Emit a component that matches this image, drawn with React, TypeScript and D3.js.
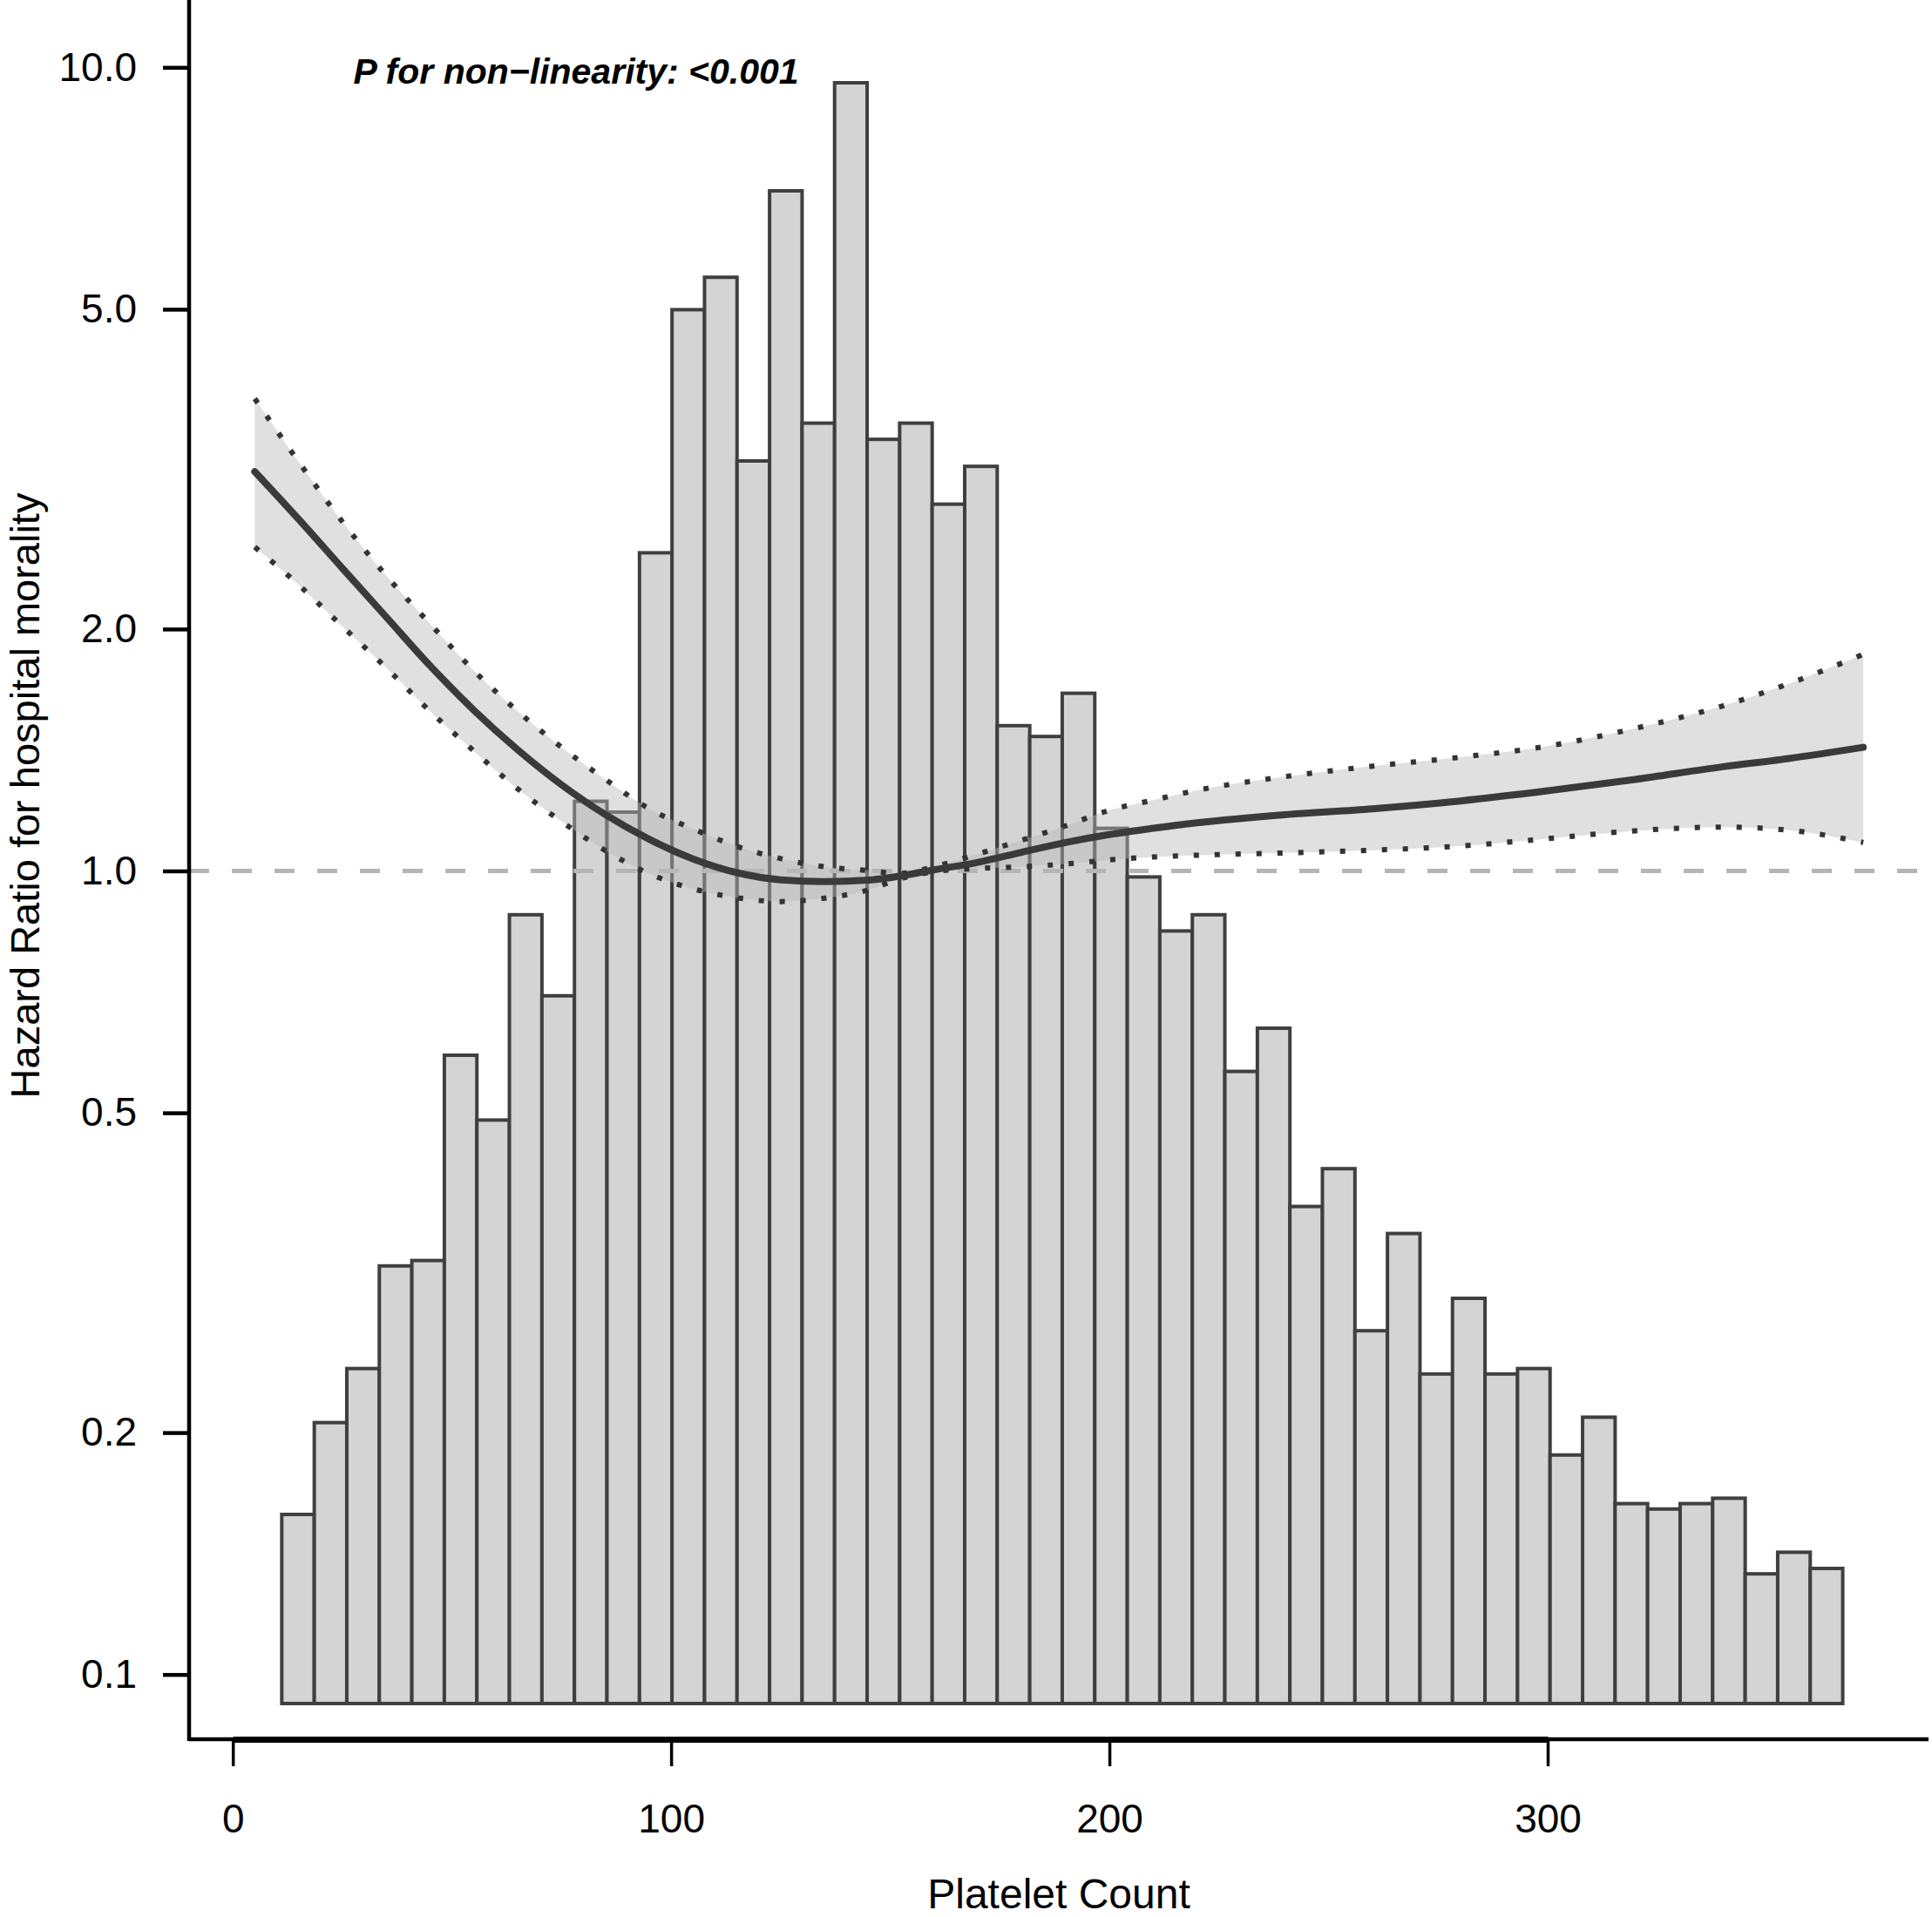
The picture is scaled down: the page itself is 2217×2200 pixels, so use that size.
import * as d3 from "d3"
import { useEffect, useRef } from "react"

const WIDTH = 2217
const HEIGHT = 2200

// histogram of platelet count (frequency per bin, 48 equal bins)
const binStart = 11.16
const binWidth = 7.42
const binCounts = [
  35, 52, 62, 81, 82, 120, 108, 146, 131, 167, 165, 213, 258, 264, 230, 280,
  237, 300, 234, 237, 222, 229, 181, 179, 187, 162, 153, 143, 146, 117, 125, 92,
  99, 69, 87, 61, 75, 61, 62, 46, 53, 37, 36, 37, 38, 24, 28, 25,
]

// restricted cubic spline: hazard ratio with 95% CI
const splineX = [
  5, 15, 25, 35, 45, 55, 65, 75, 85, 95, 105, 115, 125, 135, 145, 152, 160, 170,
  180, 190, 200, 210, 220, 240, 260, 280, 300, 320, 340, 355, 372,
]
const hazardRatio = [
  3.14, 2.74, 2.38, 2.07, 1.8, 1.585, 1.415, 1.28, 1.175, 1.095, 1.035, 0.995,
  0.975, 0.97, 0.974, 0.985, 1.003, 1.025, 1.055, 1.085, 1.11, 1.13, 1.148,
  1.175, 1.195, 1.222, 1.258, 1.3, 1.348, 1.38, 1.425,
]
const lowerCI = [
  2.53, 2.27, 2.015, 1.79, 1.58, 1.41, 1.265, 1.152, 1.06, 0.992, 0.95, 0.926,
  0.916, 0.925, 0.947, 0.977, 0.998, 1.007, 1.012, 1.02, 1.032, 1.041, 1.046,
  1.053, 1.061, 1.074, 1.097, 1.122, 1.134, 1.124, 1.085,
]
const upperCI = [
  3.87, 3.23, 2.72, 2.33, 2.03, 1.775, 1.58, 1.425, 1.3, 1.195, 1.128, 1.073,
  1.036, 1.012, 1.001, 0.993, 1.012, 1.05, 1.092, 1.138, 1.19, 1.225, 1.26,
  1.31, 1.35, 1.385, 1.43, 1.505, 1.605, 1.71, 1.86,
]

const xTicks = [0, 100, 200, 300]
const yTicks = [0.1, 0.2, 0.5, 1, 2, 5, 10]
const yTickLabels = ["0.1", "0.2", "0.5", "1.0", "2.0", "5.0", "10.0"]

const FONT = "'Liberation Sans', Arial, Helvetica, sans-serif"

export default function App() {
  const svgRef = useRef<SVGSVGElement>(null)

  useEffect(() => {
    if (!svgRef.current) return
    const svg = d3.select(svgRef.current)
    svg.selectAll("*").remove()

    // plot region edges (bty = "l")
    const plotLeft = 217
    const plotRight = 2213
    const plotBottom = 1996

    const x = d3.scaleLinear().domain([0, 300]).range([267.2, 1776])
    const y = d3.scaleLog().domain([0.1, 10]).range([1921.7, 77.3])
    const yCount = d3.scaleLinear().domain([0, 300]).range([1955, 95])

    // histogram bars
    svg
      .append("g")
      .selectAll("rect")
      .data(binCounts)
      .join("rect")
      .attr("x", (_, i) => x(binStart + i * binWidth))
      .attr("width", x(binWidth) - x(0))
      .attr("y", (d) => yCount(d))
      .attr("height", (d) => yCount(0) - yCount(d))
      .attr("fill", "#d4d4d4")
      .attr("stroke", "#3f3f3f")
      .attr("stroke-width", 4)

    // reference line HR = 1
    svg
      .append("line")
      .attr("x1", plotLeft)
      .attr("x2", plotRight)
      .attr("y1", y(1))
      .attr("y2", y(1))
      .attr("stroke", "#b5b5b5")
      .attr("stroke-width", 5)
      .attr("stroke-dasharray", "23 26")

    const idx = d3.range(splineX.length)

    // confidence band
    const band = d3
      .area<number>()
      .x((i) => x(splineX[i]))
      .y0((i) => y(lowerCI[i]))
      .y1((i) => y(upperCI[i]))
      .curve(d3.curveMonotoneX)

    svg
      .append("path")
      .datum(idx)
      .attr("d", band)
      .attr("fill", "rgb(187,187,187)")
      .attr("fill-opacity", 0.45)

    const lineOf = (vals: number[]) =>
      d3
        .line<number>()
        .x((i) => x(splineX[i]))
        .y((i) => y(vals[i]))
        .curve(d3.curveMonotoneX)

    // dotted CI limits
    ;[lowerCI, upperCI].forEach((vals) => {
      svg
        .append("path")
        .datum(idx)
        .attr("d", lineOf(vals))
        .attr("fill", "none")
        .attr("stroke", "#333")
        .attr("stroke-width", 6)
        .attr("stroke-dasharray", "6 18")
    })

    // hazard ratio curve
    svg
      .append("path")
      .datum(idx)
      .attr("d", lineOf(hazardRatio))
      .attr("fill", "none")
      .attr("stroke", "#3a3a3a")
      .attr("stroke-width", 8)
      .attr("stroke-linecap", "round")

    // box lines
    svg
      .append("line")
      .attr("x1", plotLeft)
      .attr("x2", plotLeft)
      .attr("y1", 0)
      .attr("y2", plotBottom + 2)
      .attr("stroke", "#000")
      .attr("stroke-width", 4.5)
    svg
      .append("line")
      .attr("x1", plotLeft)
      .attr("x2", plotRight)
      .attr("y1", plotBottom)
      .attr("y2", plotBottom)
      .attr("stroke", "#000")
      .attr("stroke-width", 4.5)

    // y axis
    const yAxis = svg
      .append("g")
      .attr("transform", `translate(${plotLeft},0)`)
      .call(
        d3
          .axisLeft(y)
          .tickValues(yTicks)
          .tickFormat((_, i) => yTickLabels[i])
          .tickSize(30)
          .tickPadding(30),
      )
    yAxis.select(".domain").remove()
    yAxis.selectAll("line").attr("stroke", "#000").attr("stroke-width", 4.5)
    yAxis
      .selectAll("text")
      .attr("fill", "#000")
      .style("font-family", FONT)
      .style("font-size", "46px")

    // x axis
    const xAxis = svg
      .append("g")
      .attr("transform", `translate(0,${plotBottom})`)
      .call(
        d3
          .axisBottom(x)
          .tickValues(xTicks)
          .tickFormat(d3.format("d"))
          .tickSize(31)
          .tickSizeOuter(0)
          .tickPadding(43),
      )
    xAxis.select(".domain").attr("stroke", "#000").attr("stroke-width", 7)
    xAxis.selectAll("line").attr("stroke", "#000").attr("stroke-width", 3.5)
    xAxis
      .selectAll("text")
      .attr("fill", "#000")
      .style("font-family", FONT)
      .style("font-size", "46px")

    // axis titles
    svg
      .append("text")
      .attr("x", (plotLeft + plotRight) / 2)
      .attr("y", 2190)
      .attr("text-anchor", "middle")
      .style("font-family", FONT)
      .style("font-size", "48px")
      .text("Platelet Count")

    svg
      .append("text")
      .attr("transform", "translate(45,913) rotate(-90)")
      .attr("text-anchor", "middle")
      .style("font-family", FONT)
      .style("font-size", "47px")
      .text("Hazard Ratio for hospital morality")

    // annotation
    svg
      .append("text")
      .attr("x", x(78.3))
      .attr("y", 96)
      .attr("text-anchor", "middle")
      .style("font-family", FONT)
      .style("font-size", "41px")
      .style("font-weight", "bold")
      .style("font-style", "italic")
      .text("P for non\u2212linearity: <0.001")
  }, [])

  return (
    <svg
      ref={svgRef}
      width={WIDTH}
      height={HEIGHT}
      style={{ position: "absolute", left: 0, top: 0, background: "#fff" }}
    />
  )
}
